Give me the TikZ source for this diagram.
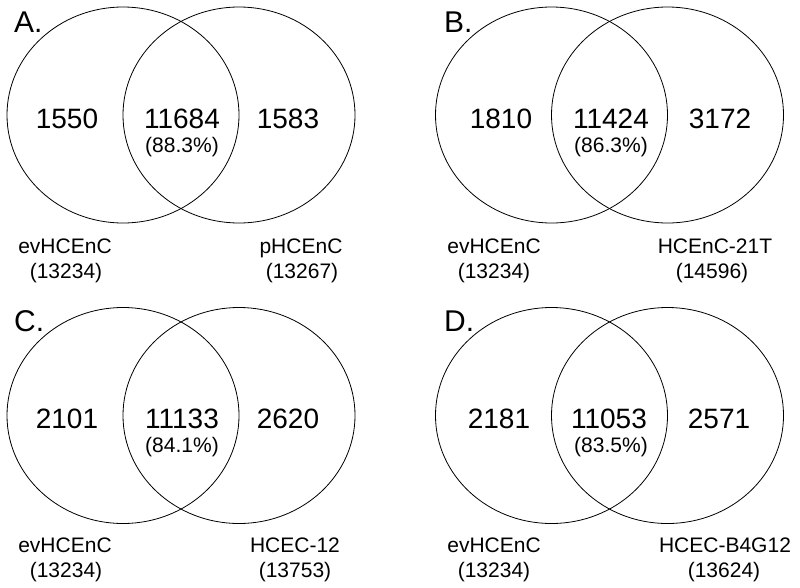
\documentclass[tikz,border=0pt]{standalone}
\usepackage{fontspec}
\setmainfont{Liberation Sans}
\begin{document}
\begin{tikzpicture}[x=1pt,y=-1pt,
  venn/.style={draw=black,line width=0.8pt},
  big/.style={font=\fontsize{28}{30}\selectfont,anchor=base,inner sep=0pt},
  small/.style={font=\fontsize{21}{23}\selectfont,anchor=base,inner sep=0pt},
  panel/.style={font=\fontsize{30}{32}\selectfont,anchor=base west,inner sep=0pt}]
\useasboundingbox[fill=white] (0,0) rectangle (800,587);
% Panel A
\draw[venn] (123,115) ellipse [x radius=116pt, y radius=108pt];
\draw[venn] (239,115) ellipse [x radius=116pt, y radius=108pt];
\node[panel] (pA) at (14,32) {A.};
\node[big] (a1) at (67,128) {1550};
\node[big] (a2) at (182,128) {11684};
\node[big] (a3) at (288,128) {1583};
\node[small] (a4) at (182,152) {(88.3\%)};
\node[small] (a5) at (65,253) {evHCEnC};
\node[small] (a6) at (66,278) {(13234)};
\node[small] (a7) at (301,253) {pHCEnC};
\node[small] (a8) at (302,278) {(13267)};
% Panel B
\draw[venn] (551.5,115) ellipse [x radius=116pt, y radius=108pt];
\draw[venn] (667.5,115) ellipse [x radius=116pt, y radius=108pt];
\node[panel] (pB) at (444,32) {B.};
\node[big] (b1) at (501,128) {1810};
\node[big] (b2) at (611,128) {11424};
\node[big] (b3) at (720,128) {3172};
\node[small] (b4) at (611,152) {(86.3\%)};
\node[small] (b5) at (494,253) {evHCEnC};
\node[small] (b6) at (494,278) {(13234)};
\node[small] (b7) at (715,253) {HCEnC-21T};
\node[small] (b8) at (712,278) {(14596)};
% Panel C
\draw[venn] (123,415.5) ellipse [x radius=116pt, y radius=108pt];
\draw[venn] (239,415.5) ellipse [x radius=116pt, y radius=108pt];
\node[panel] (pC) at (14,331) {C.};
\node[big] (c1) at (67,428) {2101};
\node[big] (c2) at (182,428) {11133};
\node[big] (c3) at (288,428) {2620};
\node[small] (c4) at (182,452) {(84.1\%)};
\node[small] (c5) at (65,552) {evHCEnC};
\node[small] (c6) at (66,577) {(13234)};
\node[small] (c7) at (295,552) {HCEC-12};
\node[small] (c8) at (295,577) {(13753)};
% Panel D
\draw[venn] (551.5,415.5) ellipse [x radius=116pt, y radius=108pt];
\draw[venn] (667.5,415.5) ellipse [x radius=116pt, y radius=108pt];
\node[panel] (pD) at (444,331) {D.};
\node[big] (d1) at (499,428) {2181};
\node[big] (d2) at (609,428) {11053};
\node[big] (d3) at (719,428) {2571};
\node[small] (d4) at (611,452) {(83.5\%)};
\node[small] (d5) at (494,552) {evHCEnC};
\node[small] (d6) at (494,577) {(13234)};
\node[small] (d7) at (725,552) {HCEC-B4G12};
\node[small] (d8) at (724,577) {(13624)};
\end{tikzpicture}
\end{document}
